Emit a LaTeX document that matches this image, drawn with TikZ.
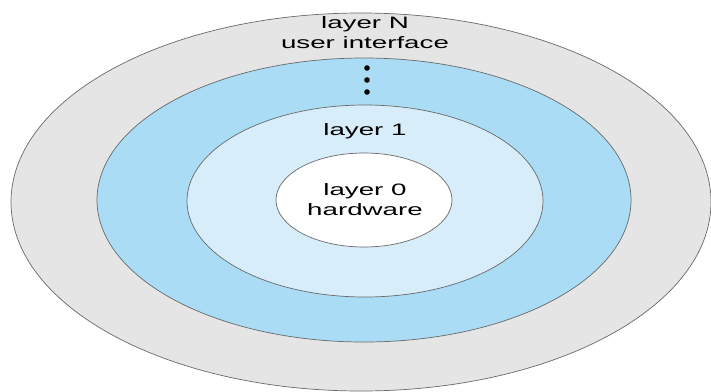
\documentclass[tikz,border=0pt]{standalone}
\usepackage{fontspec}
\setmainfont{Liberation Sans}
\usepackage{xcolor}
\usepackage{tikz}
\definecolor{layerGray}{RGB}{229, 229, 229}
\definecolor{layerBlue}{RGB}{170, 220, 245}
\definecolor{layerLight}{RGB}{215, 238, 250}
\definecolor{layerEdge}{RGB}{105, 105, 105}

\begin{document}
\begin{tikzpicture}[x=1pt, y=-1pt,
  ring/.style={draw=layerEdge, line width=0.7pt},
  lbl/.style={font=\fontsize{16.5}{20}\selectfont, align=center, xscale=1.68, inner sep=0pt}]
\useasboundingbox (0,0) rectangle (711,391);
% Rings
\filldraw[ring, fill=layerGray] (361,202) ellipse (350 and 189);
\filldraw[ring, fill=layerBlue] (364,200) ellipse (267 and 142);
\filldraw[ring, fill=layerLight] (365,201) ellipse (178 and 96);
\filldraw[ring, fill=white] (364,200) ellipse (88 and 47);

% Labels
\node[lbl] (layerN) at (365,33) {layer N\\user interface};
\node[lbl] (layer1) at (365,131) {layer 1};
\node[lbl] (layer0) at (365,200) {layer 0\\hardware};

% Dots
\fill (367,68) circle (2.8);
\fill (367,80) circle (2.8);
\fill (367,92) circle (2.8);
\end{tikzpicture}
\end{document}
